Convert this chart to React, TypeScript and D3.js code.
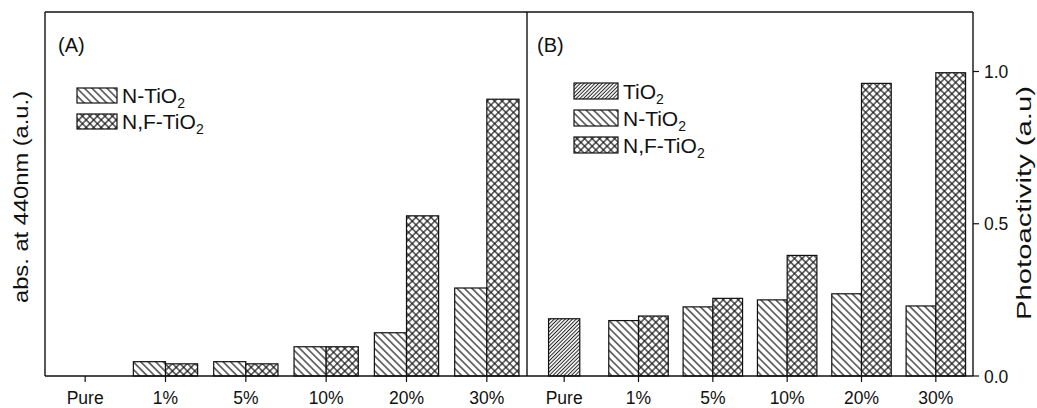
import React from 'react';
import * as d3 from 'd3';

const categories = ['Pure', '1%', '5%', '10%', '20%', '30%'];
// Panel A: absorbance at 440 nm (a.u.)
const absN: (number | null)[] = [null, 0.047, 0.047, 0.096, 0.142, 0.289];
const absNF: (number | null)[] = [null, 0.040, 0.040, 0.096, 0.526, 0.909];
// Panel B: photoactivity (a.u.)
const photoTiO2: (number | null)[] = [0.188, null, null, null, null, null];
const photoN: (number | null)[] = [null, 0.182, 0.227, 0.250, 0.270, 0.230];
const photoNF: (number | null)[] = [null, 0.197, 0.255, 0.396, 0.961, 0.996];
const rightTicks = [0, 0.5, 1.0];

const W = 1037, H = 408;
const X0 = 45, XMID = 527, X1 = 973, YTOP = 12, YBOT = 376;
const FONT = '"Liberation Sans", Arial, Helvetica, sans-serif';

const y = d3.scaleLinear().domain([0, 1]).range([YBOT, 71.5]);
const xA = d3.scaleBand<string>().domain(categories).range([X0, XMID]).padding(0);
const xB = d3.scaleBand<string>().domain(categories).range([XMID, X1]).padding(0);

const Sub = ({ base, sub }: { base: string; sub: string }) => (
  <>
    {base}
    <tspan fontSize={14} dy={5}>{sub}</tspan>
  </>
);

export default function App() {
  const subA = d3.scaleBand<string>().domain(['N', 'NF']).range([0, xA.bandwidth()]).paddingInner(0).paddingOuter(0.25);
  const subB = d3.scaleBand<string>().domain(['N', 'NF']).range([0, xB.bandwidth()]).paddingInner(0).paddingOuter(0.25);

  const bars: { x: number; w: number; v: number; fill: string }[] = [];
  categories.forEach((c, i) => {
    const bx = xA(c)!;
    if (absN[i] != null) bars.push({ x: bx + subA('N')!, w: subA.bandwidth(), v: absN[i]!, fill: 'url(#hatchN)' });
    if (absNF[i] != null) bars.push({ x: bx + subA('NF')!, w: subA.bandwidth(), v: absNF[i]!, fill: 'url(#hatchNF)' });
    const rx = xB(c)!;
    if (photoTiO2[i] != null) {
      const w = xB.bandwidth() * 0.42;
      bars.push({ x: rx + (xB.bandwidth() - w) / 2, w, v: photoTiO2[i]!, fill: 'url(#hatchT)' });
    }
    if (photoN[i] != null) bars.push({ x: rx + subB('N')!, w: subB.bandwidth(), v: photoN[i]!, fill: 'url(#hatchN)' });
    if (photoNF[i] != null) bars.push({ x: rx + subB('NF')!, w: subB.bandwidth(), v: photoNF[i]!, fill: 'url(#hatchNF)' });
  });

  return (
    <svg width={W} height={H} style={{ position: 'absolute', left: 0, top: 0, background: '#fff' }} fontFamily={FONT}>
      <defs>
        <pattern id="hatchN" patternUnits="userSpaceOnUse" width={5.3} height={5.3} patternTransform="rotate(-45)">
          <rect width={5.3} height={5.3} fill="#fff" />
          <line x1={2.65} y1={0} x2={2.65} y2={5.3} stroke="#111" strokeWidth={1.15} />
        </pattern>
        <pattern id="hatchNF" patternUnits="userSpaceOnUse" width={5.3} height={5.3} patternTransform="rotate(45)">
          <rect width={5.3} height={5.3} fill="#fff" />
          <line x1={2.65} y1={0} x2={2.65} y2={5.3} stroke="#111" strokeWidth={1.15} />
          <line x1={0} y1={2.65} x2={5.3} y2={2.65} stroke="#111" strokeWidth={1.15} />
        </pattern>
        <pattern id="hatchT" patternUnits="userSpaceOnUse" width={2.6} height={2.6} patternTransform="rotate(45)">
          <rect width={2.6} height={2.6} fill="#fff" />
          <line x1={1.3} y1={0} x2={1.3} y2={2.6} stroke="#222" strokeWidth={1} />
        </pattern>
      </defs>

      {/* bars */}
      {bars.map((b, i) => (
        <rect key={i} x={b.x} y={y(b.v)} width={b.w} height={YBOT - y(b.v)} fill={b.fill} stroke="#111" strokeWidth={1.2} />
      ))}

      {/* frames */}
      <g stroke="#111" strokeWidth={1.4} fill="none">
        <line x1={X0} y1={YTOP} x2={X1} y2={YTOP} />
        <line x1={X0} y1={YTOP} x2={X0} y2={YBOT} />
        <line x1={XMID} y1={YTOP} x2={XMID} y2={YBOT} />
        <line x1={X1} y1={YTOP} x2={X1} y2={YBOT} />
        <line x1={X0} y1={YBOT} x2={X1} y2={YBOT} />
      </g>

      {/* x ticks */}
      {categories.map((c) => {
        const ca = xA(c)! + xA.bandwidth() / 2;
        const cb = xB(c)! + xB.bandwidth() / 2;
        return (
          <g key={c}>
            <line x1={ca} x2={ca} y1={YBOT} y2={YBOT + 6} stroke="#111" strokeWidth={1.2} />
            <line x1={cb} x2={cb} y1={YBOT} y2={YBOT + 6} stroke="#111" strokeWidth={1.2} />
            <text x={ca} y={404} textAnchor="middle" fontSize={17.5} fill="#111">{c}</text>
            <text x={cb} y={404} textAnchor="middle" fontSize={17.5} fill="#111">{c}</text>
          </g>
        );
      })}

      {/* right y axis */}
      {rightTicks.map((t) => (
        <g key={t}>
          <line x1={X1} x2={X1 + 6} y1={y(t)} y2={y(t)} stroke="#111" strokeWidth={1.2} />
          <text x={X1 + 11} y={y(t) + 6.5} fontSize={17.5} fill="#111">{d3.format('.1f')(t)}</text>
        </g>
      ))}

      {/* axis titles */}
      <text transform="translate(28,197) rotate(-90)" textAnchor="middle" fontSize={20} fill="#111"
        textLength={212} lengthAdjust="spacingAndGlyphs">abs. at 440nm (a.u.)</text>
      <text transform="translate(1031,203) rotate(-90)" textAnchor="middle" fontSize={20} fill="#111"
        textLength={234} lengthAdjust="spacingAndGlyphs">Photoactivity (a.u)</text>

      {/* panel labels */}
      <text x={58} y={52} fontSize={20} fill="#111">(A)</text>
      <text x={537} y={52} fontSize={20} fill="#111">(B)</text>

      {/* legend A */}
      <rect x={77} y={88} width={40} height={15} fill="url(#hatchN)" stroke="#111" strokeWidth={1.2} />
      <text x={122} y={103} fontSize={21} fill="#111"><Sub base="N-TiO" sub="2" /></text>
      <rect x={77} y={114} width={40} height={15} fill="url(#hatchNF)" stroke="#111" strokeWidth={1.2} />
      <text x={122} y={129} fontSize={21} fill="#111"><Sub base="N,F-TiO" sub="2" /></text>

      {/* legend B */}
      <rect x={574} y={83} width={44} height={16} fill="url(#hatchT)" stroke="#111" strokeWidth={1.2} />
      <text x={623} y={99} fontSize={21} fill="#111"><Sub base="TiO" sub="2" /></text>
      <rect x={574} y={110} width={44} height={16} fill="url(#hatchN)" stroke="#111" strokeWidth={1.2} />
      <text x={623} y={126} fontSize={21} fill="#111"><Sub base="N-TiO" sub="2" /></text>
      <rect x={574} y={137} width={44} height={16} fill="url(#hatchNF)" stroke="#111" strokeWidth={1.2} />
      <text x={623} y={153} fontSize={21} fill="#111"><Sub base="N,F-TiO" sub="2" /></text>
    </svg>
  );
}
